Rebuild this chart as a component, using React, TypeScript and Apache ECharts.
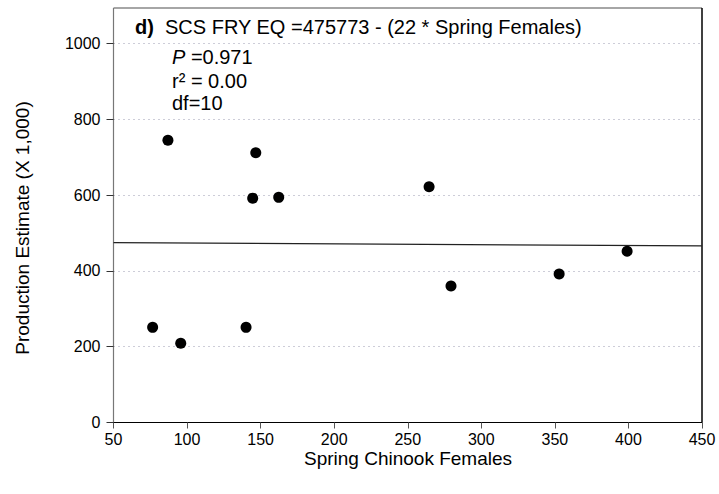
import React, { useEffect, useRef } from "react";
import * as echarts from "echarts";

// Data (Production estimate in thousands)
const springFemales = [76.6, 87.0, 95.7, 140.1, 144.6, 146.7, 162.3, 264.5, 279.4, 352.9, 399.1];
const production = [251, 745, 209, 251, 592, 712, 594, 622, 360, 392, 452];

// Regression: SCS FRY EQ = 475773 - (22 * Spring Females), plotted in thousands
const intercept = 475773 / 1000;
const slope = -22 / 1000;
const xRange = [50, 450];
const yRange = [0, 1000];

const panelText = "d)";
const titleText = "SCS FRY EQ =475773 - (22 * Spring Females)";
const pText = "=0.971";
const r2Text = "r\u00B2 = 0.00";
const dfText = "df=10";
const xName = "Spring Chinook Females";
const yName = "Production Estimate (X 1,000)";

const FONT = "'Liberation Sans', Arial, Helvetica, sans-serif";

export default function App() {
  const ref = useRef<HTMLDivElement>(null);
  useEffect(() => {
    if (!ref.current) return;
    const chart = echarts.init(ref.current, null, { renderer: "svg" });
    const points = springFemales.map((x, i) => [x, production[i]]);
    const regLine = xRange.map((x) => [x, intercept + slope * x]);
    const left = 113.5;
    const right = 702;
    const top = 43.5;
    const bottom = 422.5;
    chart.setOption({
      animation: false,
      backgroundColor: "#fff",
      grid: { left, right: 719 - right, top, bottom: 494 - bottom, containLabel: false },
      xAxis: {
        type: "value",
        min: xRange[0],
        max: xRange[1],
        interval: 50,
        axisLine: { show: true, onZero: false, lineStyle: { color: "#000", width: 1.2 } },
        axisTick: { show: true, inside: false, length: 6, lineStyle: { color: "#555" } },
        axisLabel: { color: "#000", fontSize: 16, fontFamily: FONT, margin: 9, formatter: (v: number) => String(v) },
        splitLine: { show: false },
      },
      yAxis: {
        type: "value",
        min: yRange[0],
        max: yRange[1],
        interval: 200,
        axisLine: { show: true, onZero: false, lineStyle: { color: "#777", width: 1.2 } },
        axisTick: { show: true, inside: false, length: 7, lineStyle: { color: "#333" } },
        axisLabel: { color: "#000", fontSize: 16, fontFamily: FONT, margin: 13, formatter: (v: number) => String(v) },
        splitLine: { show: true, lineStyle: { type: [1, 4], color: "#9a9ab0", width: 1 } },
      },
      series: [
        {
          type: "line",
          data: regLine,
          symbol: "none",
          lineStyle: { color: "#222", width: 1.3 },
          z: 2,
        },
        {
          type: "scatter",
          data: points,
          symbol: "circle",
          symbolSize: 11,
          itemStyle: { color: "#000", opacity: 1 },
          z: 3,
        },
      ],
      graphic: [
        { type: "line", shape: { x1: left, y1: 8, x2: right, y2: 8 }, style: { stroke: "#888", lineWidth: 1.5 } },
        { type: "line", shape: { x1: left, y1: 8, x2: left, y2: top }, style: { stroke: "#777", lineWidth: 1.2 } },
        { type: "line", shape: { x1: right, y1: 8, x2: right, y2: bottom }, style: { stroke: "#000", lineWidth: 1.5 } },
        {
          type: "text",
          x: 135,
          y: 27,
          style: { text: panelText, fontSize: 20, fontWeight: "bold", fontFamily: FONT, fill: "#000", verticalAlign: "middle" },
        },
        {
          type: "text",
          x: 165,
          y: 27,
          style: { text: titleText, fontSize: 20, fontFamily: FONT, fill: "#000", verticalAlign: "middle" },
        },
        {
          type: "text",
          x: 172,
          y: 57,
          style: {
            text: "{i|P}{n| " + pText + "}",
            rich: {
              i: { fontStyle: "italic", fontSize: 20, fontFamily: FONT, fill: "#000" },
              n: { fontSize: 20, fontFamily: FONT, fill: "#000" },
            },
            verticalAlign: "middle",
          },
        },
        {
          type: "text",
          x: 172,
          y: 81,
          style: { text: r2Text, fontSize: 20, fontFamily: FONT, fill: "#000", verticalAlign: "middle" },
        },
        {
          type: "text",
          x: 172,
          y: 103,
          style: { text: dfText, fontSize: 20, fontFamily: FONT, fill: "#000", verticalAlign: "middle" },
        },
        {
          type: "text",
          x: 408,
          y: 458,
          style: { text: xName, fontSize: 19, fontFamily: FONT, fill: "#000", align: "center", verticalAlign: "middle" },
        },
        {
          type: "text",
          x: 22,
          y: 228,
          rotation: Math.PI / 2,
          style: { text: yName, fontSize: 19, fontFamily: FONT, fill: "#000", align: "center", verticalAlign: "middle" },
        },
      ],
    });
    return () => chart.dispose();
  }, []);
  return <div ref={ref} style={{ position: "fixed", left: 0, top: 0, width: 719, height: 494 }} />;
}
